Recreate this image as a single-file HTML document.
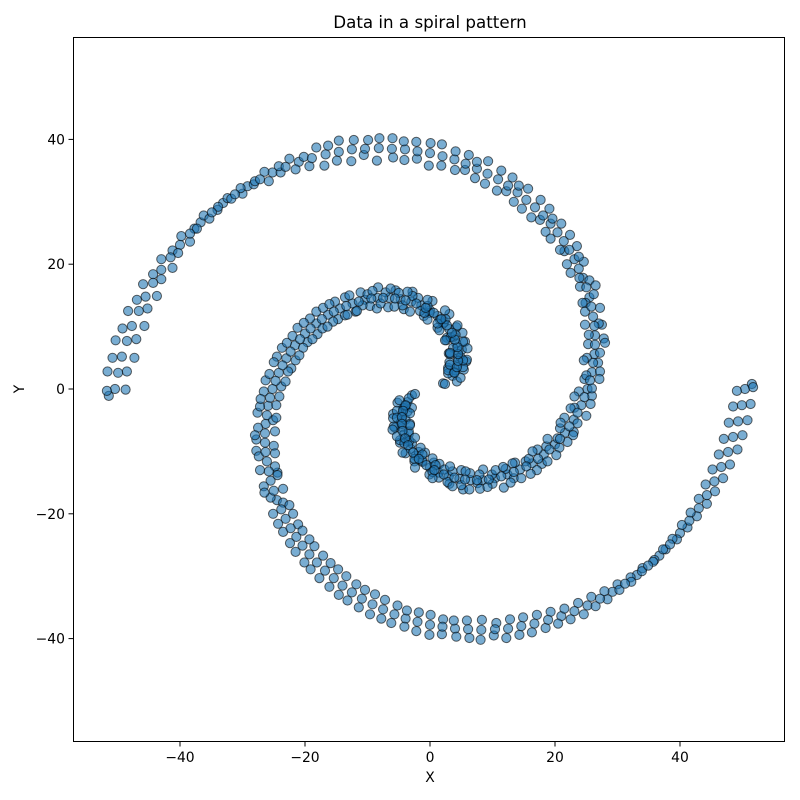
<!DOCTYPE html>
<html><head><meta charset="utf-8"><style>
html,body{margin:0;padding:0;background:#fff;}
svg{display:block;font-family:"DejaVu Sans","Liberation Sans",sans-serif;}
</style></head><body>
<svg id="chart" width="800" height="800" viewBox="0 0 800 800">
<rect x="0" y="0" width="800" height="800" fill="#fff"/>
<text x="430" y="28" text-anchor="middle" font-size="16.7" fill="#000">Data in a spiral pattern</text>
<g id="marks"></g>
<g id="xticks"></g>
<g id="yticks"></g>
<rect x="73.5" y="37.5" width="711" height="704" fill="none" stroke="#000" stroke-width="1"/>
<text x="430" y="782" text-anchor="middle" font-size="13.9">X</text>
<text x="24" y="389" text-anchor="middle" font-size="13.9" transform="rotate(-90 24 389)">Y</text>
</svg>
<script>
// Arm B (ends on the right at x≈51)
const xB = [3.6,4.1,4.4,4.5,4.5,4.2,3.8,3.1,2.3,1.2,0,-1.4,-3.0,-4.7,-6.5,-8.4,-10.4,-12.4,-14.4,-16.3,-18.2,-20.0,-21.6,-23.0,-24.2,-25.2,-25.9,-26.3,-26.4,-26.1,-25.5,-24.5,-23.1,-21.4,-19.3,-16.8,-14.0,-10.9,-7.5,-3.9,0,4.0,8.2,12.5,16.7,21.0,25.2,29.2,33.1,36.7,40.0,43.0,45.5,47.7,49.3,50.4,
4.3,2.9,2.1,2.9,5.4,4.9,3.1,5.8,3.7,3.0,5.6,5.1,2.7,5.2,2.6,2.1,4.2,3.1,1.2,-0.1,1.6,0.4,-1.0,-1.9,-1.6,-2.8,-4.2,-4.4,-5.5,-6.7,-7.1,-8.3,-9.6,-10.8,-11.1,-11.9,-13.6,-15.2,-14.7,-15.5,-18.2,-19.2,-18.0,-21.2,-19.6,-20.3,-23.7,-24.5,-22.2,-22.7,-26.3,
-26.6,-24.1,-24.6,-27.6,-27.5,-24.8,-25.0,-27.8,-27.4,-24.4,-26.6,-23.5,-23.5,-25.1,-24.3,-21.1,-20.4,-21.5,-20.1,-17.1,-15.9,-16.1,-14.6,-11.8,-10.4,-9.6,-7.8,-5.2,-3.7,-2.2,0.1,1.9,3.8,6.3,8.3,10.2,12.8,14.3,17.1,18.5,20.5,23.7,24.6,27.9,28.4,32.1,32.2,35.9,35.7,39.5,38.8,42.7,41.7,45.6,44.1,48.0,46.2,50.0,47.8,51.3,49.1,51.5,2.4];
const yB = [2.1,3.0,3.9,5.0,6.1,7.3,8.4,9.6,10.7,11.7,12.6,13.4,14.0,14.4,14.6,14.6,14.3,13.7,12.9,11.9,10.5,8.9,7.0,4.9,2.6,0,-2.7,-5.6,-8.6,-11.6,-14.7,-17.8,-20.8,-23.7,-26.5,-29.1,-31.5,-33.6,-35.3,-36.8,-37.8,-38.4,-38.6,-38.4,-37.6,-36.4,-34.7,-32.5,-29.8,-26.7,-23.1,-19.1,-14.8,-10.1,-5.2,0,
1.2,3.4,0.9,2.5,3.1,5.1,4.3,4.4,6.6,5.7,7.6,6.3,8.2,9.0,7.8,10.5,9.9,12.0,9.8,12.2,11.1,14.1,11.7,14.6,12.5,15.6,12.8,13.4,15.8,13.1,15.5,16.3,13.3,13.4,15.5,12.4,14.7,14.0,11.2,10.8,12.4,11.3,8.8,9.8,7.5,6.6,6.6,5.2,3.3,2.8,1.4,
-0.4,-1.2,-2.6,-3.8,-6.2,-6.8,-9.1,-9.9,-10.8,-13.4,-15.6,-16.0,-18.2,-20.0,-21.6,-21.7,-22.7,-26.1,-27.8,-26.7,-27.9,-31.7,-33.0,-31.3,-32.2,-36.1,-36.8,-34.7,-35.5,-38.8,-36.2,-39.3,-37.1,-39.9,-37.0,-39.5,-36.9,-39.4,-36.2,-38.3,-37.6,-34.3,-36.1,-32.4,-33.7,-30.2,-30.9,-27.4,-27.7,-24.1,-24.0,-20.4,-19.8,-16.4,-15.3,-12.1,-10.5,-7.4,-5.4,-2.4,-0.3,0.8,0.8];
const xB2 = [2.9,5.3,3.9,3.2,6.0,3.3,2.4,4.1,1.5,2.5,-0.4,-0.9,-3.2,-5.0,-6.3,-8.5,-10.0,-12.9,-13.6,-17.1,-17.2,-18.8,-22.9,-21.5,-25.7,-23.8,-27.2,-25.1,-27.8,-24.8,-24.4,-25.5,-21.9,-22.4,-18.5,-17.7,-13.4,-11.4,-7.2,-4.1,-0.1,4.2,8.1,12.2,16.3,21.5,25.8,30.0,34.0,37.7,41.2,44.3,46.9,49.2,50.8,51.7,
4.9,3.2,5.9,5.3,3.2,5.3,4.4,1.2,2.4,-0.4,-0.4,-2.8,-3.6,-5.7,-7.9,-9.2,-11.7,-13.2,-16.1,-16.4,-20.2,-22.0,-20.9,-25.0,-23.1,-27.1,-24.6,-28.0,-24.8,-27.2,-26.5,-22.5,-23.5,-19.3,-19.1,-14.7,-13.2,-8.8,-6.2,-1.8,2.1,5.9,10.6,14.9,19.3,22.5,26.5,30.3,33.9,37.3,40.3,43.0,45.2,47.0,48.5,
3.9,4.3,4.5,4.5,4.4,4.0,3.5,2.7,1.8,0.6,-0.7,-2.2,-3.9,-5.6,-7.5,-9.4,-11.4,-13.4,-15.4,-17.3,-19.1,-20.8,-22.3,-23.6,-24.7,-25.6,-26.1,-26.4,-26.3,-25.8,-25.0,-23.8,-22.3,-20.4,-18.1,-15.4,-12.5,-9.2,-5.7,-2.0,2.0,6.1,10.4,14.6,18.9,23.1,27.2,31.2,34.9,38.4,41.5,44.3,46.6,48.5,49.9];
const yB2 = [3.0,3.5,2.7,5.6,6.5,8.3,7.8,8.7,9.4,11.2,11.1,12.2,12.4,15.4,16.1,12.9,15.2,15.0,11.8,13.0,9.7,8.0,7.4,4.6,2.4,0.4,-2.8,-5.0,-8.1,-12.4,-13.8,-17.4,-20.0,-24.7,-25.2,-30.3,-30.0,-35.0,-33.8,-38.1,-39.4,-39.7,-40.2,-39.9,-39.0,-35.2,-33.3,-31.3,-28.7,-25.7,-22.2,-18.4,-14.3,-9.7,-5.0,0.3,
1.8,3.9,4.7,4.6,5.8,7.6,10.2,10.5,12.6,13.3,14.3,14.9,15.6,13.2,13.7,15.7,12.5,11.9,13.6,10.0,10.6,8.5,5.4,4.3,1.2,-1.6,-4.6,-7.4,-10.3,-13.0,-16.6,-18.6,-22.9,-24.1,-28.9,-28.9,-33.9,-32.9,-37.5,-35.8,-36.9,-37.1,-37.5,-36.6,-35.7,-36.9,-34.8,-32.2,-29.2,-25.7,-21.8,-17.6,-12.9,-8.0,-2.8,
2.6,3.5,4.5,5.6,6.7,7.9,9.0,10.2,11.2,12.2,13.0,13.7,14.2,14.5,14.6,14.5,14.0,13.3,12.4,11.2,9.7,8.0,6.0,3.8,1.3,-1.4,-4.2,-7.1,-10.1,-13.2,-16.3,-19.3,-22.3,-25.1,-27.8,-30.3,-32.6,-34.5,-36.1,-37.3,-38.1,-38.5,-38.5,-38.0,-37.0,-35.6,-33.6,-31.2,-28.3,-24.9,-21.1,-17.0,-12.5,-7.7,-2.6];
// Arm A (ends on the left at x≈-51)
const xA = [-3.6,-4.1,-4.4,-4.5,-4.5,-4.2,-3.8,-3.1,-2.3,-1.2,0,1.4,3.0,4.7,6.5,8.4,10.4,12.4,14.4,16.3,18.2,20.0,21.6,23.0,24.2,25.2,25.9,26.3,26.4,26.1,25.5,24.5,23.1,21.4,19.3,16.8,14.0,10.9,7.5,3.9,0,-4.0,-8.2,-12.5,-16.7,-21.0,-25.2,-29.2,-33.1,-36.7,-40.0,-43.0,-45.5,-47.7,-49.3,-50.4,
-2.9,-4.3,-3.4,-5.2,-3.6,-4.7,-5.9,-3.9,-5.6,-5.8,-3.4,-3.4,-4.8,-2.9,-4.8,-1.8,-3.9,-2.5,-0.8,0.6,-1.2,-0.1,1.5,1.4,2.3,3.1,3.6,5.0,5.3,6.4,7.6,8.0,9.9,10.5,11.8,12.1,13.4,14.6,15.3,15.8,17.9,18.8,18.6,20.7,20.4,20.8,23.0,23.6,23.1,22.5,25.9,
25.9,24.7,25.0,26.9,27.2,25.3,25.4,27.5,27.0,24.9,26.2,24.0,23.9,24.6,23.8,21.5,20.8,21.0,19.6,17.6,16.2,15.7,14.2,12.2,10.7,9.3,7.5,5.6,4.0,1.9,-0.2,-2.2,-4.1,-6.0,-8.5,-9.9,-12.6,-14.6,-16.9,-18.2,-20.2,-23.9,-24.2,-28.2,-28.0,-32.4,-31.8,-36.2,-35.3,-39.8,-38.4,-43.0,-41.2,-45.9,-43.7,-48.3,-45.7,-50.3,-47.3,-51.6,-48.7,-51.4,-2.4];
const yA = [-2.1,-3.0,-3.9,-5.0,-6.1,-7.3,-8.4,-9.6,-10.7,-11.7,-12.6,-13.4,-14.0,-14.4,-14.6,-14.6,-14.3,-13.7,-12.9,-11.9,-10.5,-8.9,-7.0,-4.9,-2.6,0,2.7,5.6,8.6,11.6,14.7,17.8,20.8,23.7,26.5,29.1,31.5,33.6,35.3,36.8,37.8,38.4,38.6,38.4,37.6,36.4,34.7,32.5,29.8,26.7,23.1,19.1,14.8,10.1,5.2,0,
-1.0,-3.1,-1.5,-2.2,-3.6,-5.4,-4.0,-4.9,-6.2,-6.0,-7.2,-6.8,-8.6,-8.7,-8.2,-10.1,-10.3,-11.6,-10.2,-11.8,-11.5,-13.7,-12.0,-14.2,-12.9,-15.2,-13.2,-13.0,-16.1,-13.5,-15.1,-16.0,-13.7,-13.0,-15.8,-12.8,-14.3,-14.3,-11.6,-11.2,-12.0,-11.6,-9.2,-9.4,-7.9,-6.3,-6.9,-5.5,-3.0,-3.1,-1.1,
0.1,1.6,2.2,4.2,5.8,7.2,8.7,10.3,10.5,13.8,15.2,16.4,17.8,20.4,21.2,22.1,22.3,26.5,27.3,27.1,27.5,32.1,32.6,31.7,31.8,36.5,36.4,35.1,35.1,39.2,35.8,39.6,36.7,40.2,36.6,39.9,36.5,39.8,35.8,38.7,37.2,34.7,35.7,32.8,33.3,30.6,30.5,27.8,27.3,24.5,23.6,20.8,19.4,16.8,14.9,12.5,10.1,7.8,5.0,2.8,-0.1,-1.1,-0.8];
const xA2 = [-2.9,-5.3,-3.9,-3.2,-6.0,-3.3,-2.4,-4.1,-1.5,-2.5,0.4,0.9,3.2,5.0,6.3,8.5,10.0,12.9,13.6,17.1,17.2,18.8,22.9,21.5,25.7,23.8,27.2,25.1,27.8,24.8,24.4,25.5,21.9,22.4,18.5,17.7,13.4,11.4,7.2,4.1,0.1,-4.2,-8.1,-12.2,-16.3,-21.5,-25.8,-30.0,-34.0,-37.7,-41.2,-44.3,-46.9,-49.2,-50.8,-51.7,
-4.9,-3.2,-5.9,-5.3,-3.2,-5.3,-4.4,-1.2,-2.4,0.4,0.4,2.8,3.6,5.7,7.9,9.2,11.7,13.2,16.1,16.4,20.2,22.0,20.9,25.0,23.1,27.1,24.6,28.0,24.8,27.2,26.5,22.5,23.5,19.3,19.1,14.7,13.2,8.8,6.2,1.8,-2.1,-5.9,-10.6,-14.9,-19.3,-22.5,-26.5,-30.3,-33.9,-37.3,-40.3,-43.0,-45.2,-47.0,-48.5,
-3.9,-4.3,-4.5,-4.5,-4.4,-4.0,-3.5,-2.7,-1.8,-0.6,0.7,2.2,3.9,5.6,7.5,9.4,11.4,13.4,15.4,17.3,19.1,20.8,22.3,23.6,24.7,25.6,26.1,26.4,26.3,25.8,25.0,23.8,22.3,20.4,18.1,15.4,12.5,9.2,5.7,2.0,-2.0,-6.1,-10.4,-14.6,-18.9,-23.1,-27.2,-31.2,-34.9,-38.4,-41.5,-44.3,-46.6,-48.5,-49.9];
const yA2 = [-3.0,-3.5,-2.7,-5.6,-6.5,-8.3,-7.8,-8.7,-9.4,-11.2,-11.1,-12.2,-12.4,-15.4,-16.1,-12.9,-15.2,-15.0,-11.8,-13.0,-9.7,-8.0,-7.4,-4.6,-2.4,-0.4,2.8,5.0,8.1,12.4,13.8,17.4,20.0,24.7,25.2,30.3,30.0,35.0,33.8,38.1,39.4,39.7,40.2,39.9,39.0,35.2,33.3,31.3,28.7,25.7,22.2,18.4,14.3,9.7,5.0,-0.3,
-1.8,-3.9,-4.7,-4.6,-5.8,-7.6,-10.2,-10.5,-12.6,-13.3,-14.3,-14.9,-15.6,-13.2,-13.7,-15.7,-12.5,-11.9,-13.6,-10.0,-10.6,-8.5,-5.4,-4.3,-1.2,1.6,4.6,7.4,10.3,13.0,16.6,18.6,22.9,24.1,28.9,28.9,33.9,32.9,37.5,35.8,36.9,37.1,37.5,36.6,35.7,36.9,34.8,32.2,29.2,25.7,21.8,17.6,12.9,8.0,2.8,
-2.6,-3.5,-4.5,-5.6,-6.7,-7.9,-9.0,-10.2,-11.2,-12.2,-13.0,-13.7,-14.2,-14.5,-14.6,-14.5,-14.0,-13.3,-12.4,-11.2,-9.7,-8.0,-6.0,-3.8,-1.3,1.4,4.2,7.1,10.1,13.2,16.3,19.3,22.3,25.1,27.8,30.3,32.6,34.5,36.1,37.3,38.1,38.5,38.5,38.0,37.0,35.6,33.6,31.2,28.3,24.9,21.1,17.0,12.5,7.7,2.6];

const NS = 'http://www.w3.org/2000/svg';
const X0 = 430, XS = 6.25, Y0 = 389, YS = 6.24;
function sx(v){ return X0 + v*XS; }
function sy(v){ return Y0 - v*YS; }

const marks = document.getElementById('marks');
function drawArm(xs, ys, arm){
  for (let i=0;i<xs.length;i++){
    const c = document.createElementNS(NS,'circle');
    c.setAttribute('cx', sx(xs[i]).toFixed(1));
    c.setAttribute('cy', sy(ys[i]).toFixed(1));
    c.setAttribute('r', 4.6);
    c.setAttribute('fill','rgba(31,119,180,0.6)');
    c.setAttribute('stroke','rgba(0,0,0,0.6)');
    c.setAttribute('stroke-width','1');
    
    
    marks.appendChild(c);
  }
}
drawArm(xB, yB, 'arm-b');
drawArm(xB2, yB2, 'arm-b');
drawArm(xA, yA, 'arm-a');
drawArm(xA2, yA2, 'arm-a');

const xTickVals = [-40,-20,0,20,40];
const yTickVals = [-40,-20,0,20,40];
const xt = document.getElementById('xticks');
xTickVals.forEach(v=>{
  const l = document.createElementNS(NS,'line');
  l.setAttribute('x1',sx(v)); l.setAttribute('x2',sx(v));
  l.setAttribute('y1',742); l.setAttribute('y2',746.5);
  l.setAttribute('stroke','#000');
  
  
  xt.appendChild(l);
  const t = document.createElementNS(NS,'text');
  t.setAttribute('x',sx(v)); t.setAttribute('y',762);
  t.setAttribute('text-anchor','middle'); t.setAttribute('font-size','13.9');
  t.textContent = v<0 ? '\u2212'+Math.abs(v) : String(v);
  
  
  xt.appendChild(t);
});
const yt = document.getElementById('yticks');
yTickVals.forEach(v=>{
  const l = document.createElementNS(NS,'line');
  l.setAttribute('x1',68.5); l.setAttribute('x2',73);
  l.setAttribute('y1',sy(v)); l.setAttribute('y2',sy(v));
  l.setAttribute('stroke','#000');
  
  
  yt.appendChild(l);
  const t = document.createElementNS(NS,'text');
  t.setAttribute('x',65); t.setAttribute('y',sy(v)+5);
  t.setAttribute('text-anchor','end'); t.setAttribute('font-size','13.9');
  t.textContent = v<0 ? '\u2212'+Math.abs(v) : String(v);
  
  
  yt.appendChild(t);
});
</script>
</body></html>
